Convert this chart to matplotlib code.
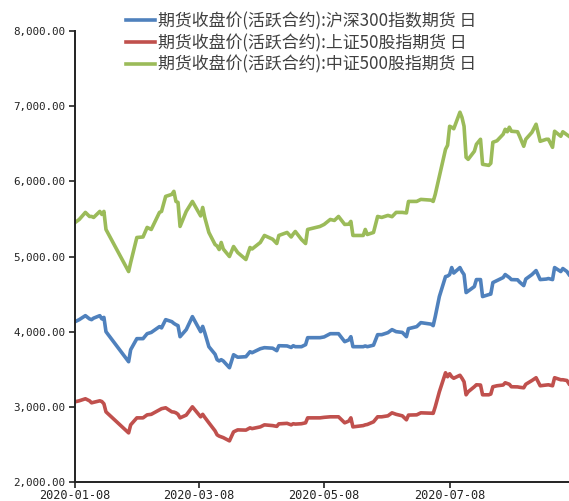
import matplotlib
matplotlib.use("Agg")
import matplotlib.pyplot as plt
import pandas as pd

plt.rcParams['font.family'] = ['Noto Sans CJK SC', 'DejaVu Sans']

dates = ['2020-01-08', '2020-01-10', '2020-01-13', '2020-01-15', '2020-01-16', '2020-01-17',
         '2020-01-20', '2020-01-21', '2020-01-22', '2020-01-23', '2020-02-03', '2020-02-04',
         '2020-02-07', '2020-02-10', '2020-02-12', '2020-02-14', '2020-02-18', '2020-02-19',
         '2020-02-21', '2020-02-24', '2020-02-25', '2020-02-26', '2020-02-27', '2020-02-28',
         '2020-03-02', '2020-03-05', '2020-03-09', '2020-03-10', '2020-03-11', '2020-03-13',
         '2020-03-16', '2020-03-17', '2020-03-18', '2020-03-19', '2020-03-20', '2020-03-23',
         '2020-03-25', '2020-03-27', '2020-03-31', '2020-04-02', '2020-04-03', '2020-04-07',
         '2020-04-09', '2020-04-13', '2020-04-15', '2020-04-16', '2020-04-20', '2020-04-22',
         '2020-04-23', '2020-04-24', '2020-04-27', '2020-04-29', '2020-04-30', '2020-05-06',
         '2020-05-08', '2020-05-11', '2020-05-13', '2020-05-15', '2020-05-18', '2020-05-20',
         '2020-05-21', '2020-05-22', '2020-05-27', '2020-05-28', '2020-05-29', '2020-06-01',
         '2020-06-03', '2020-06-05', '2020-06-08', '2020-06-10', '2020-06-12', '2020-06-15',
         '2020-06-17', '2020-06-18', '2020-06-22', '2020-06-24', '2020-06-29', '2020-06-30',
         '2020-07-01', '2020-07-03', '2020-07-06', '2020-07-07', '2020-07-08', '2020-07-09',
         '2020-07-10', '2020-07-13', '2020-07-14', '2020-07-15', '2020-07-16', '2020-07-17',
         '2020-07-20', '2020-07-21', '2020-07-23', '2020-07-24', '2020-07-27', '2020-07-28',
         '2020-07-29', '2020-07-31', '2020-08-03', '2020-08-04', '2020-08-05', '2020-08-06',
         '2020-08-07', '2020-08-10', '2020-08-11', '2020-08-13', '2020-08-14', '2020-08-17',
         '2020-08-19', '2020-08-21', '2020-08-24', '2020-08-25', '2020-08-27', '2020-08-28',
         '2020-08-31', '2020-09-01', '2020-09-03', '2020-09-04']

# 沪深300
hs300 = [4133, 4160, 4213, 4170, 4160, 4180, 4213, 4170, 4190, 4000, 3600, 3760,
         3907, 3907, 3973, 3990, 4067, 4050, 4160, 4133, 4110, 4093, 4080, 3933,
         4027, 4200, 4000, 4070, 3987, 3800, 3700, 3627, 3610, 3627, 3610, 3520,
         3693, 3660, 3667, 3733, 3720, 3773, 3787, 3780, 3747, 3813, 3810, 3790,
         3813, 3800, 3800, 3827, 3920, 3920, 3930, 3973, 3973, 3973, 3867, 3890,
         3933, 3800, 3800, 3810, 3800, 3820, 3960, 3960, 3987, 4027, 4000, 3990,
         3933, 4040, 4067, 4120, 4100, 4080, 4200, 4467, 4733, 4740, 4760, 4853,
         4780, 4853, 4800, 4760, 4520, 4540, 4600, 4693, 4693, 4467, 4493, 4500,
         4653, 4680, 4720, 4760, 4740, 4720, 4693, 4690, 4660, 4613, 4700, 4760,
         4813, 4693, 4700, 4707, 4693, 4853, 4800, 4840, 4800, 4760]

# 上证50
sz50 = [3067, 3080, 3107, 3080, 3053, 3060, 3080, 3070, 3040, 2933, 2653, 2760,
        2853, 2853, 2893, 2900, 2960, 2975, 2987, 2933, 2930, 2920, 2900, 2853,
        2890, 3000, 2867, 2900, 2860, 2787, 2680, 2627, 2610, 2600, 2590, 2547,
        2667, 2693, 2690, 2720, 2710, 2733, 2760, 2750, 2740, 2773, 2780, 2760,
        2775, 2770, 2775, 2787, 2853, 2853, 2860, 2867, 2867, 2867, 2787, 2810,
        2853, 2733, 2750, 2760, 2765, 2800, 2867, 2867, 2880, 2920, 2900, 2880,
        2827, 2890, 2893, 2920, 2915, 2913, 3000, 3200, 3453, 3400, 3440, 3400,
        3380, 3420, 3380, 3333, 3160, 3200, 3267, 3293, 3290, 3160, 3160, 3170,
        3267, 3280, 3290, 3320, 3310, 3300, 3267, 3265, 3260, 3253, 3300, 3350,
        3387, 3280, 3290, 3293, 3280, 3387, 3360, 3360, 3350, 3307]

# 中证500
zz500 = [5453, 5493, 5587, 5533, 5533, 5520, 5600, 5560, 5600, 5360, 4800, 4920,
         5253, 5260, 5387, 5360, 5587, 5600, 5800, 5827, 5867, 5733, 5720, 5400,
         5600, 5733, 5540, 5653, 5520, 5320, 5160, 5140, 5093, 5187, 5100, 5000,
         5133, 5053, 4960, 5120, 5100, 5187, 5280, 5230, 5173, 5280, 5320, 5260,
         5300, 5333, 5227, 5173, 5360, 5400, 5427, 5493, 5480, 5533, 5427, 5430,
         5467, 5280, 5280, 5360, 5293, 5320, 5533, 5520, 5547, 5530, 5587, 5587,
         5580, 5733, 5733, 5760, 5750, 5733, 5827, 6067, 6427, 6480, 6733, 6720,
         6700, 6920, 6850, 6733, 6320, 6293, 6400, 6493, 6560, 6227, 6213, 6240,
         6520, 6540, 6627, 6693, 6660, 6720, 6667, 6660, 6600, 6467, 6560, 6653,
         6760, 6533, 6560, 6560, 6453, 6667, 6600, 6660, 6620, 6600]

labels = ['期货收盘价(活跃合约):沪深300指数期货 日',
          '期货收盘价(活跃合约):上证50股指期货 日',
          '期货收盘价(活跃合约):中证500股指期货 日']
colors = ['#4F81BD', '#C0504D', '#9BBB59']
xticks = ['2020-01-08', '2020-03-08', '2020-05-08', '2020-07-08']

x = pd.to_datetime(dates)

fig = plt.figure(figsize=(5.69, 5.01), dpi=100)
ax = fig.add_axes([0.132, 0.038, 0.868, 0.900])

lines = []
for y, c, lab in zip([hs300, sz50, zz500], colors, labels):
    l, = ax.plot(x, y, color=c, lw=2.6, label=lab, solid_joinstyle='round')
    lines.append(l)

ax.set_ylim(2000, 8000)
ax.set_yticks(range(2000, 8001, 1000))
ax.set_yticklabels(['{:,.2f}'.format(v) for v in range(2000, 8001, 1000)],
                   family='DejaVu Sans Mono', fontsize=7.8, color='#222222')
ax.set_xlim(pd.Timestamp('2020-01-08'), pd.Timestamp('2020-09-04'))
ax.set_xticks(pd.to_datetime(xticks))
ax.set_xticklabels(xticks, family='DejaVu Sans Mono', fontsize=8.6, color='#222222')

for s in ['top', 'right']:
    ax.spines[s].set_visible(False)
for s in ['left', 'bottom']:
    ax.spines[s].set_color('#222222')
    ax.spines[s].set_linewidth(1.4)
ax.tick_params(axis='both', direction='out', length=4, width=1.2, color='#222222', pad=3)
ax.tick_params(axis='x', pad=1)

fig.legend(handles=lines, loc='upper left', bbox_to_anchor=(0.2, 1.0),
           frameon=False, fontsize=12.2, handlelength=1.75, handletextpad=0.15,
           labelspacing=0.22, borderpad=0.2, labelcolor='#404040')

fig.savefig('out.png', dpi=100)
